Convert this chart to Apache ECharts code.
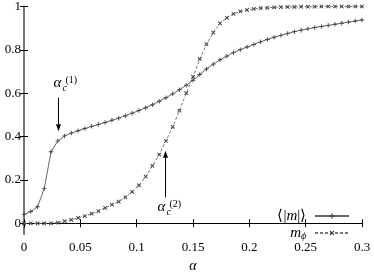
<!DOCTYPE html>
<html><head><meta charset="utf-8">
<script src="https://cdn.jsdelivr.net/npm/echarts@6/dist/echarts.min.js"></script>
<style>html,body{margin:0;padding:0;background:#fff}#c{width:374px;height:278px}</style>
</head><body><div id="c"></div><script>
const alphaValues = [0,0.006,0.012,0.018,0.024,0.03,0.036,0.042,0.048,0.054,0.06,0.066,0.072,0.078,0.084,0.09,0.096,0.102,0.108,0.114,0.12,0.126,0.132,0.138,0.144,0.15,0.156,0.162,0.168,0.174,0.18,0.186,0.192,0.198,0.204,0.21,0.216,0.222,0.228,0.234,0.24,0.246,0.252,0.258,0.264,0.27,0.276,0.282,0.288,0.294,0.3];
const mAbs = [0.04,0.054,0.076,0.16,0.33,0.38,0.403,0.416,0.427,0.437,0.447,0.456,0.465,0.475,0.485,0.496,0.508,0.52,0.533,0.547,0.563,0.579,0.597,0.616,0.637,0.66,0.686,0.712,0.734,0.754,0.771,0.787,0.801,0.813,0.825,0.837,0.848,0.858,0.867,0.876,0.884,0.891,0.897,0.903,0.908,0.913,0.918,0.923,0.928,0.933,0.938];
const mPhi = [0,0,0,0,0,0.003,0.01,0.016,0.025,0.033,0.044,0.056,0.071,0.086,0.1,0.12,0.145,0.175,0.215,0.265,0.317,0.38,0.445,0.52,0.6,0.675,0.758,0.826,0.88,0.922,0.948,0.966,0.977,0.984,0.989,0.992,0.994,0.996,0.997,0.998,0.998,0.999,0.999,0.999,1,1,1,1,1,1,1];
const xTicks = [0,0.05,0.1,0.15,0.2,0.25,0.3];
const yTicks = [0,0.2,0.4,0.6,0.8,1];
const seriesNames = ['mabs','mphi'];
const annotations = [
  {alpha:0.03, tail:0.58, tip:0.425, sup:'(1)'},
  {alpha:0.125, tail:0.12, tip:0.335, sup:'(2)'}
];

const FONT = 'Liberation Serif';
const plus = 'path://M4,0h2v4h4v2h-4v4h-2v-4h-4v-2h4z';
const fmt = v => String(parseFloat((+v).toFixed(3)));
const chart = echarts.init(document.getElementById('c'), null, {renderer:'canvas'});
const tickStyle = {show:true, inside:true, length:4, lineStyle:{color:'#000', width:1}};
const lineAx = {show:true, lineStyle:{color:'#000', width:1}};
const option = {
  animation:false,
  backgroundColor:'#fff',
  grid:{left:24, right:12, top:6, bottom:33, containLabel:false},
  xAxis:[
    {type:'value', min:0, max:0.3, interval:0.05, axisLine:lineAx, axisTick:tickStyle,
     splitLine:{show:false},
     axisLabel:{formatter:fmt, fontFamily:FONT, fontSize:13, color:'#000', margin:7},
     name:'α', nameLocation:'middle', nameGap:23,
     nameTextStyle:{fontFamily:FONT, fontStyle:'italic', fontSize:14, color:'#000'}},
    {type:'value', position:'top', min:0, max:0.3, interval:0.05, axisLine:lineAx, axisTick:tickStyle,
     splitLine:{show:false}, axisLabel:{show:false}}
  ],
  yAxis:[
    {type:'value', min:-0.05, max:1, axisLine:lineAx,
     axisTick:Object.assign({customValues:yTicks}, tickStyle),
     splitLine:{show:false},
     axisLabel:{customValues:yTicks, formatter:fmt, fontFamily:FONT, fontSize:13, color:'#000', margin:3}},
    {type:'value', position:'right', min:-0.05, max:1,
     axisLine:{show:true, lineStyle:{color:'#777', width:2}},
     axisTick:Object.assign({customValues:yTicks}, tickStyle),
     splitLine:{show:false}, axisLabel:{show:false}}
  ],
  legend:{
    orient:'vertical', right:19, top:203, align:'right', itemGap:1,
    itemWidth:34, itemHeight:7,
    data:seriesNames,
    formatter: n => n === 'mabs' ? '{n|⟨|}{i|m}{n||⟩} ' : '{i|m}{s|ϕ} ',
    textStyle:{fontFamily:FONT, fontSize:15, color:'#000', lineHeight:16,
      rich:{n:{fontFamily:FONT, fontSize:15, lineHeight:16}, i:{fontFamily:FONT, fontStyle:'italic', fontSize:15, lineHeight:16},
            s:{fontFamily:FONT, fontStyle:'italic', fontSize:10, lineHeight:16, padding:[6,0,0,0]}}}
  },
  series:[
    {type:'line', name:'mabs', data:alphaValues.map((a,i)=>[a,mAbs[i]]),
     symbol:plus, symbolSize:4.5, showSymbol:true,
     lineStyle:{color:'#666', width:1}, itemStyle:{color:'#444'}},
    {type:'line', name:'mphi', data:alphaValues.map((a,i)=>[a,mPhi[i]]),
     symbol:plus, symbolRotate:45, symbolSize:5, showSymbol:true,
     lineStyle:{color:'#777', width:1, type:[3,2]}, itemStyle:{color:'#444'}}
  ]
};
chart.setOption(option);

const els = [];
annotations.forEach((a, k) => {
  const t = chart.convertToPixel({gridIndex:0}, [a.alpha, a.tail]);
  const p = chart.convertToPixel({gridIndex:0}, [a.alpha, a.tip]);
  const x = Math.round(t[0]) + 0.5;
  const dir = p[1] < t[1] ? -1 : 1;
  const headLen = 7, headW = 2.5;
  els.push({type:'line', shape:{x1:x, y1:t[1], x2:x, y2:p[1] - dir*headLen}, style:{stroke:'#000', lineWidth:1}});
  els.push({type:'polygon', shape:{points:[[x, p[1]], [x-headW, p[1]-dir*headLen], [x+headW, p[1]-dir*headLen]]}, style:{fill:'#000'}});
  const above = dir > 0;
  const baseY = above ? t[1] - 7 : t[1] + 17;
  const left = x - (k === 0 ? 5 : 8);
  els.push({type:'text', x:left, y:baseY, style:{text:'α', font:'italic 15px "'+FONT+'"', fill:'#000', verticalAlign:'bottom'}});
  els.push({type:'text', x:left+9, y:baseY+3, style:{text:'c', font:'italic 10px "'+FONT+'"', fill:'#000', verticalAlign:'bottom'}});
  els.push({type:'text', x:left+12, y:baseY-5, style:{text:a.sup, font:'10px "'+FONT+'"', fill:'#000', verticalAlign:'bottom'}});
});
chart.setOption({graphic:{elements:els}});
</script></body></html>
